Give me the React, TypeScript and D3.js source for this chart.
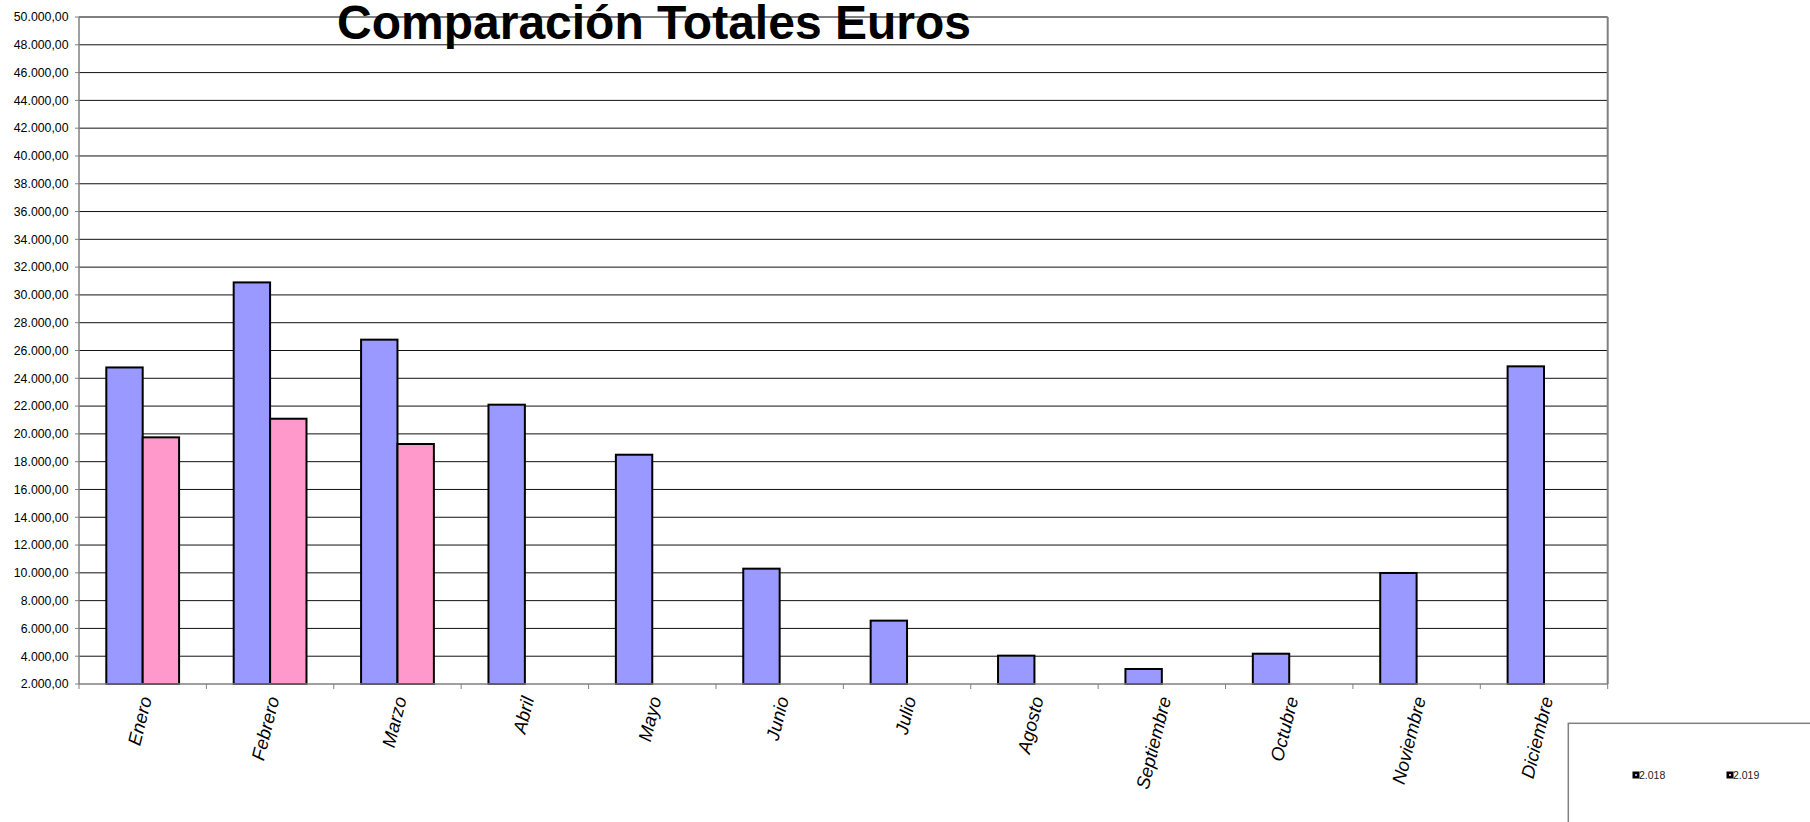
import React from "react";
import * as d3 from "d3";

const months = ["Enero","Febrero","Marzo","Abril","Mayo","Junio","Julio","Agosto","Septiembre","Octubre","Noviembre","Diciembre"];
const series = ["2.018", "2.019"];
const values2018 = [24780, 30900, 26780, 22100, 18500, 10300, 6560, 4040, 3080, 4180, 9990, 24860];
const values2019: (number | null)[] = [19750, 21090, 19270, null, null, null, null, null, null, null, null, null];
const yTicks = d3.range(2000, 50001, 2000);
const colors = ["#9999FF", "#FF99CC"];
const title = "Comparación Totales Euros";

const W = 1810, H = 822;
const left = 79, right = 1607.7, top = 17, bottom = 684;

function fmt(v: number) {
  const s = d3.format(",.2f")(v);
  return s.replace(/,/g, "#").replace(/\./g, ",").replace(/#/g, ".");
}

export default function App() {
  const x = d3.scaleBand<string>().domain(months).range([left, right]).padding(0);
  const xs = d3.scaleBand<string>().domain(series).range([0, x.bandwidth()]).paddingInner(0).paddingOuter(0.75);
  const y = d3.scaleLinear().domain([2000, 50000]).range([bottom, top]);
  const seriesVals = [values2018, values2019];
  const font = "Liberation Sans, Arial, sans-serif";

  return (
    <svg width={W} height={H} style={{ position: "absolute", left: 0, top: 0, background: "#fff" }} fontFamily={font}>
      {/* gridlines */}
      {yTicks.filter(t => t > 2000 && t < 50000).map(t => (
        <line key={"g" + t} x1={left} x2={right} y1={y(t)} y2={y(t)} stroke="#111" strokeWidth={1} />
      ))}
      {/* plot frame top/right */}
      <line x1={left} x2={right} y1={top} y2={top} stroke="#808080" strokeWidth={2} />
      <line x1={right} x2={right} y1={top} y2={bottom} stroke="#808080" strokeWidth={2} />
      {/* bars */}
      {months.map((m, i) => (
        <g key={m}>
          {seriesVals.map((vals, s) => {
            const v = vals[i];
            if (v == null) return null;
            const bx = (x(m) as number) + (xs(series[s]) as number);
            return (
              <rect key={s} x={bx} y={y(v)} width={xs.bandwidth()} height={bottom - y(v)}
                fill={colors[s]} stroke="#000" strokeWidth={2} />
            );
          })}
        </g>
      ))}
      {/* axes */}
      <line x1={left} x2={left} y1={top} y2={bottom} stroke="#808080" strokeWidth={1.5} />
      <line x1={left} x2={right} y1={bottom} y2={bottom} stroke="#808080" strokeWidth={1.5} />
      {yTicks.map(t => (
        <g key={"yt" + t}>
          <line x1={left - 4} x2={left} y1={y(t)} y2={y(t)} stroke="#808080" strokeWidth={1} />
          <text x={68.5} y={y(t)} dy="0.35em" textAnchor="end" fontSize={12.3} fill="#000">{fmt(t)}</text>
        </g>
      ))}
      {months.map((m, i) => (
        <line key={"xt" + m} x1={x(m) as number} x2={x(m) as number} y1={bottom} y2={bottom + 5} stroke="#808080" strokeWidth={1} />
      ))}
      <line x1={right} x2={right} y1={bottom} y2={bottom + 5} stroke="#808080" strokeWidth={1} />
      {months.map(m => {
        const cx = (x(m) as number) + x.bandwidth() / 2 + 3;
        const cy = 697;
        return (
          <text key={"xl" + m} transform={`translate(${cx},${cy}) rotate(-76)`} textAnchor="end" dy="0.35em"
            fontSize={18.5} fontStyle="italic" fill="#000">{m}</text>
        );
      })}
      {/* title */}
      <text x={654} y={39} textAnchor="middle" fontSize={48} fontWeight="bold" fill="#000">{title}</text>
      {/* legend */}
      <rect x={1568.3} y={723.3} width={300} height={150} fill="#fff" stroke="#808080" strokeWidth={1.5} />
      {series.map((s, i) => {
        const lx = 1632.5 + i * 94;
        const ly = 775;
        return (
          <g key={"lg" + s}>
            <rect x={lx} y={ly - 3.5} width={7} height={7} fill="#000" />
            <rect x={lx + 2.5} y={ly - 1} width={2} height={2} fill={colors[i]} />
            <text x={lx + 6.5} y={ly} dy="0.35em" fontSize={10.5} fill="#222">{s}</text>
          </g>
        );
      })}
    </svg>
  );
}
